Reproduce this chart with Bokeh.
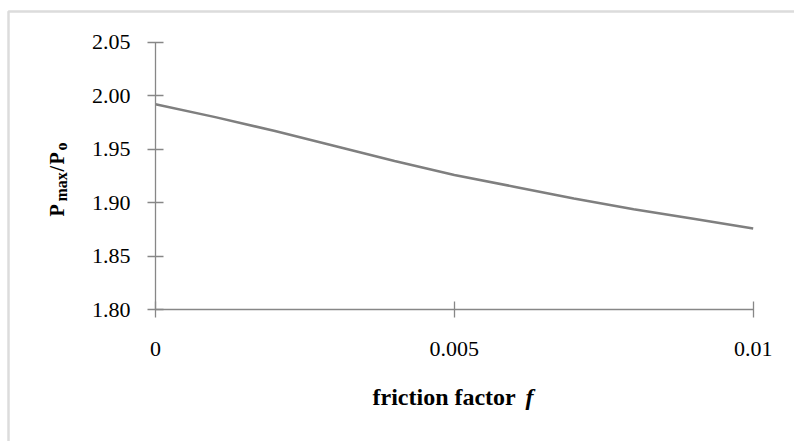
import math
from bokeh.plotting import figure
from bokeh.models import FixedTicker, Range1d, BoxAnnotation, Label
from bokeh.embed import file_html
from bokeh.resources import INLINE

# data
friction = [0.000, 0.001, 0.002, 0.003, 0.004, 0.005, 0.006, 0.007, 0.008, 0.009, 0.010]
ratio = [1.992, 1.980, 1.967, 1.953, 1.939, 1.926, 1.915, 1.904, 1.894, 1.885, 1.876]
x_ticks = [0, 0.005, 0.01]
x_tick_labels = ["0", "0.005", "0.01"]
y_ticks = [1.80, 1.85, 1.90, 1.95, 2.00, 2.05]
y_tick_labels = ["1.80", "1.85", "1.90", "1.95", "2.00", "2.05"]
x_title = "friction factor"
x_title_symbol = "f"

FONT = "Liberation Serif"
AX = "#878787"
W, H = 794, 441

# frame covers the whole canvas; axes are placed at fixed data locations
p = figure(width=W, height=H, output_backend="svg", toolbar_location=None,
           x_range=Range1d(-0.002593, 0.010691), y_range=Range1d(1.67696, 2.08896),
           min_border=0, min_border_left=0, min_border_right=0,
           min_border_top=0, min_border_bottom=0)
p.outline_line_color = None
p.grid.grid_line_color = None
p.background_fill_color = "white"
p.border_fill_color = "white"

p.line(friction, ratio, line_color="#7f7f7f", line_width=2.5)

for ax in (p.xaxis[0], p.yaxis[0]):
    ax.axis_line_color = AX
    ax.axis_line_width = 1.3
    ax.major_tick_line_color = AX
    ax.major_tick_line_width = 1.3
    ax.minor_tick_line_color = None
    ax.major_tick_in = 8
    ax.major_tick_out = 8
    ax.major_label_text_font = FONT
    ax.major_label_text_font_size = "22px"
    ax.major_label_text_color = "black"
    ax.axis_label = None

p.xaxis.ticker = FixedTicker(ticks=x_ticks)
p.xaxis.major_label_overrides = dict(zip(x_ticks, x_tick_labels))
p.xaxis.major_label_standoff = 24
p.xaxis.fixed_location = y_ticks[0]
p.xaxis.bounds = (x_ticks[0], x_ticks[-1])

p.yaxis.ticker = FixedTicker(ticks=y_ticks)
p.yaxis.major_label_overrides = dict(zip(y_ticks, y_tick_labels))
p.yaxis.major_label_standoff = 17
p.yaxis.fixed_location = x_ticks[0]
p.yaxis.bounds = (y_ticks[0], y_ticks[-1])

def lab(text, x, y, size, style="bold", angle=0.0):
    p.add_layout(Label(x=x, y=H - y, x_units="screen", y_units="screen", text=text,
                       angle=angle, text_font=FONT, text_font_style=style,
                       text_font_size=size, text_align="left",
                       text_baseline="alphabetic", text_color="black"))

# x-axis title (bold + italic symbol)
lab(x_title, 372, 396, "24px")
lab(x_title_symbol, 525, 396, "24px", style="bold italic")

# y-axis title  P_max / P_o  (rotated, with subscripts)
R = math.pi / 2
lab("P", 56, 216, "20px", angle=R)
lab("max", 60.5, 201, "16px", angle=R)
lab("/", 56, 171, "20px", angle=R)
lab("P", 56, 164, "20px", angle=R)
lab("o", 60.5, 150, "16px", angle=R)

# chart-area border (extends beyond the right and bottom of the picture)
p.add_layout(BoxAnnotation(left=8, right=1000, top=H - 11, bottom=-100,
                           left_units="screen", right_units="screen",
                           top_units="screen", bottom_units="screen",
                           fill_alpha=0, line_color="#8c8c8c", line_width=2.5))

open("out.html", "w").write(file_html(p, INLINE))
